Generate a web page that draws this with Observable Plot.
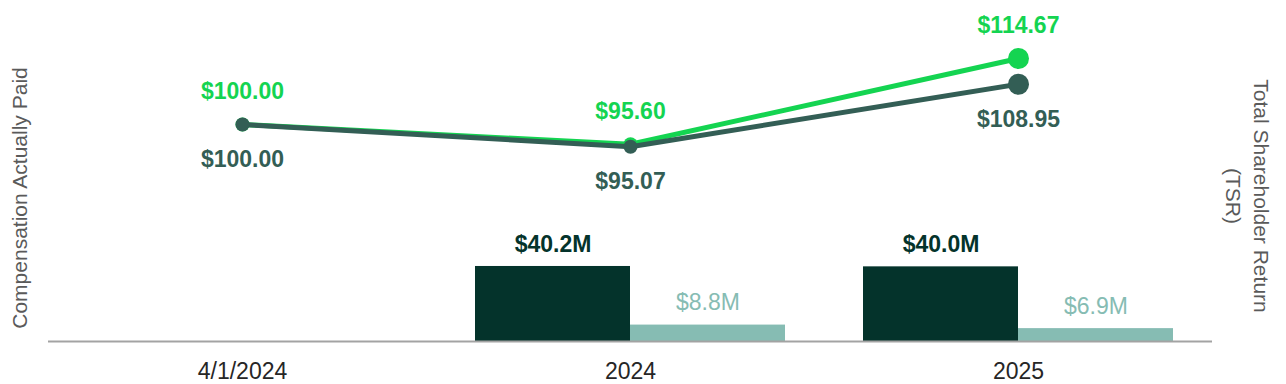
<!DOCTYPE html>
<html>
<head>
<meta charset="utf-8">
<script src="https://cdn.jsdelivr.net/npm/d3@7"></script>
<script src="https://cdn.jsdelivr.net/npm/@observablehq/plot@0.6"></script>
<style>
  html, body { margin: 0; padding: 0; background: #ffffff; }
  #wrap { position: relative; width: 1286px; height: 384px; font-family: "Liberation Sans", Arial, sans-serif; }
  #wrap svg { position: absolute; left: 0; top: 0; overflow: visible; }
  .ytitle { position: absolute; white-space: nowrap; color: #5a5a5a; font-size: 21px; line-height: 28px; text-align: center; }
</style>
</head>
<body>
<div id="wrap"></div>
<script>
// ---- data ----
const categories = ["4/1/2024", "2024", "2025"];
const tsrCompany = [100.00, 95.07, 108.95];
const tsrPeer = [100.00, 95.60, 114.67];
const barYears = ["2024", "2025"];
const capPEO = [40.2, 40.0];
const capNonPEO = [8.8, 6.9];
const barSeries = ["PEO CAP", "Average Non-PEO NEO CAP"];
const lineSeries = ["Peer Group TSR", "Company TSR"];
const leftTitle = "Compensation Actually Paid";
const rightTitle = ["Total Shareholder Return", "(TSR)"];

// ---- tables ----
const bars = [];
barYears.forEach((yr, i) => {
  bars.push({year: yr, series: barSeries[0], value: capPEO[i]});
  bars.push({year: yr, series: barSeries[1], value: capNonPEO[i]});
});
const lines = [];
categories.forEach((c, i) => lines.push({cat: c, series: lineSeries[0], value: tsrPeer[i], idx: i}));
categories.forEach((c, i) => lines.push({cat: c, series: lineSeries[1], value: tsrCompany[i], idx: i}));

const FONT = "'Liberation Sans', Arial, sans-serif";
const GREEN = "#14d451";
const DARKLINE = "#335e55";
const DARKBAR = "#04332b";
const LIGHTBAR = "#86bcb3";
const W = 1286, H = 384;
const margins = {marginLeft: 48, marginRight: 74, marginTop: 20, marginBottom: 43};
const fmtM = v => "$" + v.toFixed(1) + "M";
const fmtT = v => "$" + v.toFixed(2);
const tsrDomain = [51.78, 123.11];

// ---- bars plot ----
const barPlot = Plot.plot({
  width: W, height: H, ...margins,
  style: {fontFamily: FONT, fontSize: "23px", color: "#262626", background: "transparent", overflow: "visible"},
  fx: {domain: categories, padding: 0, label: null, tickSize: 0, tickPadding: 21},
  x: {domain: barSeries, axis: null, paddingInner: 0, paddingOuter: 0.2516},
  y: {domain: [0, 172], axis: null},
  color: {domain: barSeries, range: [DARKBAR, LIGHTBAR]},
  marks: [
    Plot.barY(bars, {fx: "year", x: "series", y: "value", fill: "series"}),
    Plot.text(bars.filter(d => d.series === barSeries[0]), {
      fx: "year", x: "series", y: "value", text: d => fmtM(d.value),
      dy: -22, fill: DARKBAR, fontWeight: "bold", fontSize: 23
    }),
    Plot.text(bars.filter(d => d.series === barSeries[1]), {
      fx: "year", x: "series", y: "value", text: d => fmtM(d.value),
      dy: -22, fill: LIGHTBAR, fontSize: 23
    })
  ]
});

// ---- lines plot ----
const last = categories.length - 1;
const peer = lines.filter(d => d.series === lineSeries[0]);
const comp = lines.filter(d => d.series === lineSeries[1]);
const linePlot = Plot.plot({
  width: W, height: H, ...margins,
  style: {fontFamily: FONT, fontSize: "23px", background: "transparent", overflow: "visible"},
  x: {type: "point", domain: categories, padding: 0.5, axis: null},
  y: {domain: tsrDomain, axis: null},
  marks: [
    Plot.ruleY([tsrDomain[0]], {stroke: "#a3a3a3", strokeWidth: 2}),
    Plot.line(peer, {x: "cat", y: "value", stroke: GREEN, strokeWidth: 5}),
    Plot.dot(peer.filter(d => d.idx !== last), {x: "cat", y: "value", fill: GREEN, r: 7}),
    Plot.dot(peer.filter(d => d.idx === last), {x: "cat", y: "value", fill: GREEN, r: 10.5}),
    Plot.line(comp, {x: "cat", y: "value", stroke: DARKLINE, strokeWidth: 5}),
    Plot.dot(comp.filter(d => d.idx !== last), {x: "cat", y: "value", fill: DARKLINE, r: 7}),
    Plot.dot(comp.filter(d => d.idx === last), {x: "cat", y: "value", fill: DARKLINE, r: 10.5}),
    Plot.text(peer, {x: "cat", y: "value", text: d => fmtT(d.value), dy: -33, fill: GREEN, fontWeight: "bold", fontSize: 23}),
    Plot.text(comp, {x: "cat", y: "value", text: d => fmtT(d.value), dy: 35, fill: DARKLINE, fontWeight: "bold", fontSize: 23})
  ]
});
linePlot.style.pointerEvents = "none";

const wrap = document.getElementById("wrap");
wrap.appendChild(barPlot);
wrap.appendChild(linePlot);

const lt = document.createElement("div");
lt.className = "ytitle";
lt.textContent = leftTitle;
lt.style.left = "20px"; lt.style.top = "198px";
lt.style.transform = "translate(-50%, -50%) rotate(-90deg)";
wrap.appendChild(lt);

const rt = document.createElement("div");
rt.className = "ytitle";
rt.innerHTML = rightTitle.join("<br>");
rt.style.left = "1247px"; rt.style.top = "196px";
rt.style.transform = "translate(-50%, -50%) rotate(90deg)";
wrap.appendChild(rt);
</script>
</body>
</html>
